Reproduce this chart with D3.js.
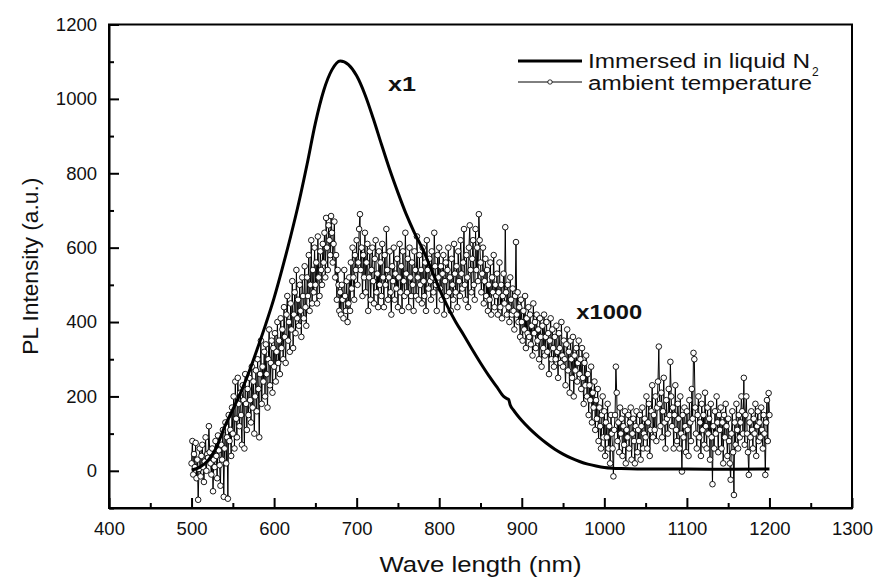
<!DOCTYPE html>
<html>
<head>
  <style>
    body { margin: 0; background: #fff; font-family: "Liberation Sans", Arial, sans-serif; }
    .axis path, .axis line { stroke: #000; stroke-width: 2px; }
    .axis text { font-size: 18.5px; fill: #111; font-family: "Liberation Sans", Arial, sans-serif; }
    .title { font-size: 22px; fill: #111; }
    .note { font-size: 21px; font-weight: bold; fill: #111; }
    .legend-text { font-size: 20px; fill: #111; }
  </style>
  <script src="https://d3js.org/d3.v7.min.js"></script>
</head>
<body>
<div id="chart"></div>
<script>
// liquid N2 curve (wavelength, intensity)
const n2Wave = [500, 510, 520, 530, 540, 550, 560, 570, 580, 590, 600, 610, 620, 630, 640, 650, 660, 670, 680, 690, 700, 710, 720, 730, 740, 750, 760, 770, 780, 790, 800, 810, 820, 830, 840, 850, 860, 870, 878, 882, 884, 886, 890, 900, 910, 920, 930, 940, 950, 960, 970, 980, 990, 1000, 1010, 1020, 1040, 1070, 1100, 1150, 1200];
const n2Value = [2, 10, 28, 62, 118, 165, 213, 268, 330, 395, 465, 545, 630, 722, 825, 935, 1022, 1078, 1102, 1092, 1062, 1012, 948, 878, 810, 748, 690, 640, 596, 544, 490, 442, 400, 364, 326, 290, 256, 225, 200, 194, 192, 177, 163, 135, 112, 92, 74, 58, 45, 34, 25, 18, 13, 9, 7, 6, 5, 5, 5, 4, 5];

// ambient temperature (x1000), 1 nm steps from 500 to 1200
const ambStart = 500;
const ambStep = 1;
const ambValue = [
  20, 80, -10, 45, 10, 75, -20, 30, -78, 5,
  60, -15, 40, 70, 10, -30, 25, 90, 0, 45,
  35, 120, 50, 20, -10, 60, -55, 30, 10, 80,
  40, -20, 95, 55, 15, -40, 70, 30, 110, -70,
  60, 130, 20, 90, -75, 150, 80, 110, 40, 170,
  100, 200, 60, 240, 140, 90, 250, 180, 120, 210,
  150, 70, 230, 190, 60, 260, 180, 110, 220, 150,
  250, 190, 130, 280, 170, 240, 100, 200, 270, 160,
  300, 220, 90, 260, 350, 180, 280, 240, 320, 200,
  340, 260, 170, 300, 380, 230, 290, 350, 210, 330,
  280, 370, 240, 320, 400, 290, 350, 260, 410, 330,
  380, 300, 440, 360, 290, 420, 470, 350, 400, 320,
  450, 380, 510, 330, 420, 480, 370, 540, 410, 460,
  390, 500, 430, 360, 520, 470, 410, 550, 440, 390,
  520, 470, 580, 430, 500, 620, 450, 540, 480, 600,
  500, 560, 450, 630, 520, 470, 590, 540, 500, 610,
  560, 640, 520, 680, 600, 540, 660, 620, 580, 685,
  640, 560, 610, 670, 520, 580, 460, 540, 500, 430,
  480, 420, 500, 460, 410, 540, 470, 430, 510, 400,
  450, 520, 430, 560, 490, 600, 520, 460, 580, 540,
  620, 500, 560, 650, 690, 540, 600, 470, 580, 520,
  640, 480, 560, 610, 430, 520, 590, 460, 540, 600,
  510, 450, 570, 620, 480, 530, 440, 590, 500, 560,
  470, 610, 520, 440, 580, 500, 650, 540, 460, 520,
  590, 480, 420, 550, 510, 600, 460, 530, 490, 570,
  440, 520, 610, 480, 550, 430, 590, 510, 470, 640,
  530, 480, 570, 440, 600, 520, 470, 560, 500, 430,
  590, 540, 470, 630, 520, 460, 580, 500, 540, 450,
  600, 510, 470, 560, 430, 620, 540, 490, 570, 510,
  460, 590, 520, 480, 640, 550, 500, 430, 580, 520,
  600, 490, 550, 460, 530, 580, 420, 510, 560, 470,
  540, 600, 480, 520, 430, 570, 500, 460, 610, 530,
  480, 550, 440, 590, 510, 470, 620, 530, 490, 560,
  650, 500, 460, 580, 520, 440, 600, 660, 540, 480,
  570, 620, 500, 460, 650, 540, 600, 510, 690, 620,
  560, 480, 530, 600, 450, 510, 570, 470, 540, 430,
  500, 460, 560, 420, 520, 480, 580, 440, 500, 470,
  530, 420, 480, 560, 440, 500, 410, 470, 530, 450,
  655, 480, 420, 500, 440, 400, 520, 460, 420, 490,
  430, 380, 470, 615, 420, 480, 400, 440, 360, 460,
  400, 350, 430, 380, 470, 330, 410, 370, 440, 360,
  420, 340, 390, 310, 450, 370, 400, 330, 420, 350,
  380, 300, 410, 360, 280, 390, 330, 420, 310, 360,
  400, 320, 370, 260, 350, 410, 300, 380, 330, 280,
  360, 300, 390, 320, 250, 370, 330, 290, 400, 310,
  280, 350, 300, 230, 340, 380, 270, 320, 210, 350,
  300, 250, 360, 200, 310, 270, 330, 240, 290, 350,
  260, 300, 220, 330, 250, 180, 290, 230, 310, 200,
  260, 150, 230, 190, 280, 130, 210, 170, 240, 110,
  190, 140, 220, 80, 170, 120, 60, 150, 200, 90,
  160, 40, 130, 90, 180, 60, 120, 20, 150, 100,
  60, -15, 110, 150, 280, 210, 80, 130, 50, 170,
  100, 140, 40, 120, 70, 160, 20, 110, 90, 150,
  60, 130, 170, 30, 100, 140, 80, 20, 120, 160,
  50, 110, 80, 150, 30, 120, 170, 60, 100, 140,
  90, 200, 60, 130, 180, 40, 110, 160, 230, 90,
  150, 110, 200, 80, 170, 240, 334, 180, 120, 210,
  90, 160, 250, 130, 60, 190, 140, 100, 220, 150,
  293, 200, 120, 170, 60, 150, 230, 110, 80, 180,
  140, 60, 200, 100, -2, 150, 90, 170, 120, 50,
  160, 110, 40, 190, 130, 80, 220, 140, 317, 300,
  170, 100, 60, 150, 200, 90, 130, 40, 180, 110,
  150, 70, 210, 120, 60, 170, 100, 140, 30, 180,
  90, -36, 120, 60, 160, 100, 200, 130, 50, 150,
  110, 170, 60, 130, 20, 150, 90, 180, 120, 40,
  140, 80, 20, -24, 100, 160, 50, -65, 130, 70,
  180, 110, 60, 150, 90, 130, 200, 160, 100, 250,
  70, 150, 200, 100, 50, -11, 130, 90, 160, 110,
  60, 140, 100, 180, 40, 120, 160, 80, 130, 90,
  170, 110, 60, 150, 100, -11, 130, 190, 80, 209,
  150
];

const xTicks = [400, 500, 600, 700, 800, 900, 1000, 1100, 1200, 1300];
const yTicks = [0, 200, 400, 600, 800, 1000, 1200];
const legendLabels = ['Immersed in liquid N', 'ambient temperature'];

const width = 875;
const height = 581;
const margin = {top: 24.5, right: 23, bottom: 73, left: 109};
const plotW = width - margin.left - margin.right;
const plotH = height - margin.top - margin.bottom;

const svg = d3.select('#chart')
  .append('svg')
  .attr('width', width)
  .attr('height', height);

const g = svg.append('g')
  .attr('transform', `translate(${margin.left},${margin.top})`);

const x = d3.scaleLinear().domain([400, 1300]).range([0, plotW]);
const y = d3.scaleLinear().domain([-100, 1200]).range([plotH, 0]);

// minor ticks
g.append('g')
  .attr('class', 'axis')
  .attr('transform', `translate(0,${plotH})`)
  .call(d3.axisBottom(x).tickValues(d3.range(450, 1300, 100)).tickSize(-5).tickFormat(''))
  .call(a => a.select('.domain').remove());
g.append('g')
  .attr('class', 'axis')
  .call(d3.axisLeft(y).tickValues(d3.range(-100, 1200, 200)).tickSize(-5).tickFormat(''))
  .call(a => a.select('.domain').remove());

// major axes, ticks pointing inward
g.append('g')
  .attr('class', 'axis')
  .attr('transform', `translate(0,${plotH})`)
  .call(d3.axisBottom(x).tickValues(xTicks).tickFormat(d3.format('d')).tickSizeInner(-10).tickSizeOuter(0).tickPadding(14));
g.append('g')
  .attr('class', 'axis')
  .call(d3.axisLeft(y).tickValues(yTicks).tickFormat(d3.format('d')).tickSizeInner(-10).tickSizeOuter(0).tickPadding(12));

// frame
g.append('rect')
  .attr('width', plotW)
  .attr('height', plotH)
  .attr('fill', 'none')
  .attr('stroke', '#000')
  .attr('stroke-width', 2);

// ambient temperature series
const ambData = ambValue.map((v, i) => ({w: ambStart + i * ambStep, v: v}));
g.append('path')
  .datum(ambData)
  .attr('fill', 'none')
  .attr('stroke', '#000')
  .attr('stroke-width', 1)
  .attr('d', d3.line().x(d => x(d.w)).y(d => y(d.v)));
g.append('g')
  .selectAll('circle')
  .data(ambData)
  .enter()
  .append('circle')
  .attr('cx', d => x(d.w))
  .attr('cy', d => y(d.v))
  .attr('r', 2.8)
  .attr('fill', '#fff')
  .attr('stroke', '#000')
  .attr('stroke-width', 0.9);

// liquid N2 curve
g.append('path')
  .datum(n2Wave.map((w, i) => ({w: w, v: n2Value[i]})))
  .attr('fill', 'none')
  .attr('stroke', '#000')
  .attr('stroke-width', 3)
  .attr('stroke-linejoin', 'round')
  .attr('d', d3.line().x(d => x(d.w)).y(d => y(d.v)).curve(d3.curveMonotoneX));

// annotations
g.append('text').attr('class', 'note')
  .attr('x', x(738)).attr('y', y(1022))
  .attr('textLength', 28).attr('lengthAdjust', 'spacingAndGlyphs')
  .text('x1');
g.append('text').attr('class', 'note')
  .attr('x', x(966)).attr('y', y(409))
  .attr('textLength', 66).attr('lengthAdjust', 'spacingAndGlyphs')
  .text('x1000');

// legend
const legend = svg.append('g').attr('transform', 'translate(518,0)');
legend.append('line')
  .attr('x1', 0).attr('x2', 64).attr('y1', 61).attr('y2', 61)
  .attr('stroke', '#000').attr('stroke-width', 3);
legend.append('text')
  .attr('class', 'legend-text')
  .attr('x', 70).attr('y', 67.5)
  .attr('textLength', 222).attr('lengthAdjust', 'spacingAndGlyphs')
  .text(legendLabels[0]);
legend.append('text')
  .attr('x', 294).attr('y', 76)
  .attr('font-size', 12)
  .attr('fill', '#111')
  .text('2');
legend.append('line')
  .attr('x1', 0).attr('x2', 64).attr('y1', 82).attr('y2', 82)
  .attr('stroke', '#000').attr('stroke-width', 1);
legend.append('circle')
  .attr('cx', 32).attr('cy', 82).attr('r', 2.2)
  .attr('fill', '#fff').attr('stroke', '#000').attr('stroke-width', 0.8);
legend.append('text')
  .attr('class', 'legend-text')
  .attr('x', 70).attr('y', 90)
  .attr('textLength', 224).attr('lengthAdjust', 'spacingAndGlyphs')
  .text(legendLabels[1]);

// axis titles
svg.append('text')
  .attr('class', 'title')
  .attr('x', margin.left + plotW / 2)
  .attr('y', 572)
  .attr('text-anchor', 'middle')
  .attr('textLength', 202).attr('lengthAdjust', 'spacingAndGlyphs')
  .text('Wave length (nm)');
svg.append('text')
  .attr('class', 'title')
  .attr('transform', `translate(38,${margin.top + plotH / 2}) rotate(-90)`)
  .attr('text-anchor', 'middle')
  .attr('textLength', 177).attr('lengthAdjust', 'spacingAndGlyphs')
  .text('PL Intensity (a.u.)');
</script>
</body>
</html>
